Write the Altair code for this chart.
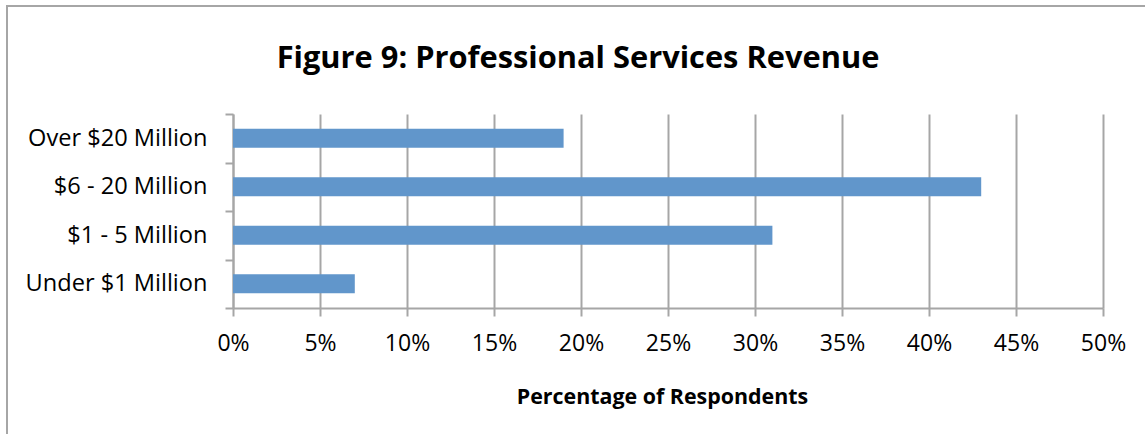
import altair as alt
import pandas as pd

categories = ["Over $20 Million", "$6 - 20 Million", "$1 - 5 Million", "Under $1 Million"]
values = [0.19, 0.43, 0.31, 0.07]
x_ticks = [0, 0.05, 0.10, 0.15, 0.20, 0.25, 0.30, 0.35, 0.40, 0.45, 0.50]
title_text = "Figure 9: Professional Services Revenue"

df = pd.DataFrame({"category": categories, "value": values})

FONT = "Open Sans"
GRID = "#a6a6a6"

bars = alt.Chart(df).mark_bar(color="#6196CB", size=19).encode(
    x=alt.X("value:Q",
            scale=alt.Scale(domain=[0, 0.5], nice=False),
            axis=alt.Axis(values=x_ticks, format=".0%", title="Percentage of Respondents",
                          grid=True, gridColor=GRID, gridWidth=2,
                          domainColor=GRID, domainWidth=2,
                          tickColor=GRID, tickWidth=2, tickSize=8,
                          labelFont=FONT, labelFontSize=23, labelColor="#000000",
                          labelPadding=16, labelFlush=False, labelOverlap=False,
                          titleFont=FONT, titleFontSize=21.4, titleFontWeight="bold",
                          titleColor="#000000", titleY=95, titleX=429,
                          titleBaseline="alphabetic")),
    y=alt.Y("category:N", sort=categories,
            scale=alt.Scale(paddingInner=0, paddingOuter=0),
            axis=alt.Axis(title=None, grid=False, tickBand="extent",
                          domainColor=GRID, domainWidth=2,
                          tickColor=GRID, tickWidth=2, tickSize=8,
                          labelFont=FONT, labelFontSize=23.6, labelColor="#000000",
                          labelPadding=18, labelLimit=400)),
)

border = alt.Chart(df).mark_rect(filled=False, stroke="#a6a6a6", strokeWidth=2).encode(
    x=alt.value(-226), x2=alt.value(960), y=alt.value(-108), y2=alt.value(400)
)

title = alt.Chart(pd.DataFrame({"t": [title_text]})).mark_text(
    font=FONT, fontSize=30.8, fontWeight="bold", color="#000000",
    align="center", baseline="alphabetic"
).encode(text="t:N", x=alt.value(345), y=alt.value(-46))

chart = alt.layer(border, bars, title).properties(
    width=870, height=194,
    autosize=alt.AutoSizeParams(type="none"),
    padding={"left": 233, "top": 114, "right": 42, "bottom": 126},
).configure_view(stroke=None)

chart.save("out.html", embed_options={"renderer": "svg", "actions": False})
